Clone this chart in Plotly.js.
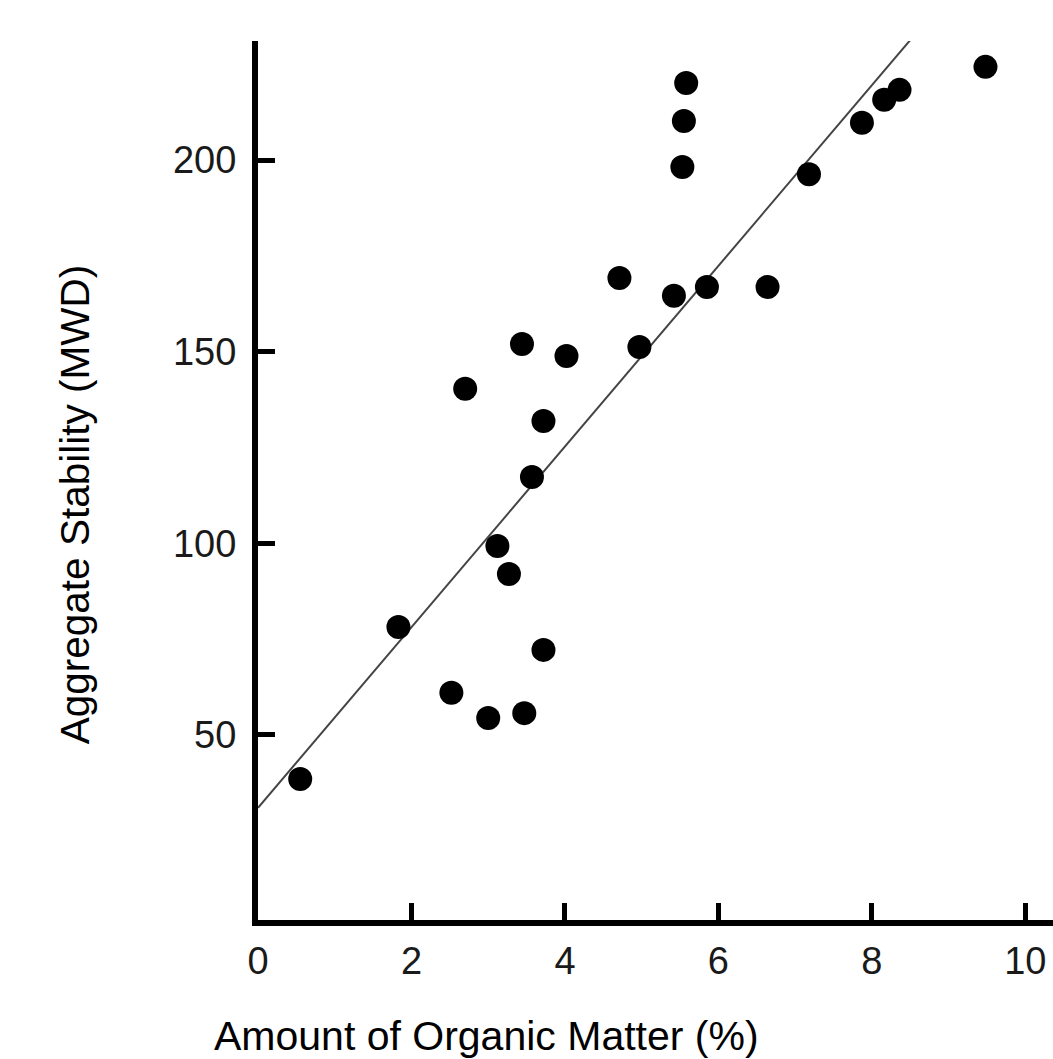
<!DOCTYPE html>
<html>
<head>
<meta charset="utf-8">
<script src="https://cdn.plot.ly/plotly-3.0.1.min.js"></script>
<style>html,body{margin:0;padding:0;background:#fff;overflow:hidden}#chart{width:1053px;height:1059px}</style>
</head>
<body>
<div id="chart"></div>
<script>
// Organic matter (%) and aggregate stability (MWD)
var organicMatter = [0.55, 1.83, 2.52, 3.00, 3.47, 3.72, 3.12, 3.27, 3.57, 3.72, 2.70, 3.44, 4.02, 4.97, 4.71, 5.42, 5.85, 6.64, 5.53, 5.55, 5.58, 7.18, 7.87, 8.16, 8.36, 9.48];
var aggregateStability = [38.5, 78.2, 61.0, 54.4, 55.7, 72.2, 99.3, 92.0, 117.3, 131.9, 140.3, 152.0, 148.9, 151.2, 169.2, 164.6, 166.9, 166.9, 198.2, 210.2, 220.1, 196.3, 209.7, 215.7, 218.3, 224.3];
// Regression line end points
var fitX = [0, 8.5];
var fitY = [31, 231.3];
var xTicks = [0, 2, 4, 6, 8, 10];
var yTicks = [50, 100, 150, 200];
var xTitle = "Amount of Organic Matter (%)";
var yTitle = "Aggregate Stability (MWD)";

var font = "Liberation Sans, Arial, sans-serif";
var traces = [
  {x: fitX, y: fitY, mode: "lines", type: "scatter", line: {color: "#444", width: 2}, hoverinfo: "skip"},
  {x: organicMatter, y: aggregateStability, mode: "markers", type: "scatter", marker: {color: "#000", size: 24}, cliponaxis: false}
];
var layout = {
  width: 1053, height: 1059,
  margin: {l: 258, r: 0, t: 41, b: 139, pad: 0},
  paper_bgcolor: "#fff", plot_bgcolor: "#fff",
  showlegend: false,
  font: {family: font, color: "#000"},
  xaxis: {
    range: [0, 10.36], tickvals: xTicks, ticktext: xTicks.map(String),
    showgrid: false, zeroline: false, showline: true, linecolor: "#000", linewidth: 6,
    ticks: "inside", ticklen: 17, tickwidth: 5, tickcolor: "#000",
    tickfont: {size: 38, family: font, color: "#1a1a1a"}, ticklabelstandoff: 2
  },
  yaxis: {
    range: [1.73, 231.05], tickvals: yTicks, ticktext: yTicks.map(String),
    showgrid: false, zeroline: false, showline: true, linecolor: "#000", linewidth: 6,
    ticks: "inside", ticklen: 17, tickwidth: 5, tickcolor: "#000",
    tickfont: {size: 38, family: font, color: "#1a1a1a"}, ticklabelstandoff: 8
  },
  annotations: [
    {text: xTitle, xref: "paper", yref: "paper", x: -0.058, y: -0.132, xanchor: "left", yanchor: "middle", showarrow: false, font: {size: 41, family: font, color: "#000"}},
    {text: yTitle, xref: "paper", yref: "paper", x: -0.230, y: 0.472, xanchor: "center", yanchor: "middle", textangle: -90, showarrow: false, font: {size: 40.5, family: font, color: "#000"}}
  ]
};
Plotly.newPlot("chart", traces, layout, {displayModeBar: false, staticPlot: true});
</script>
</body>
</html>
